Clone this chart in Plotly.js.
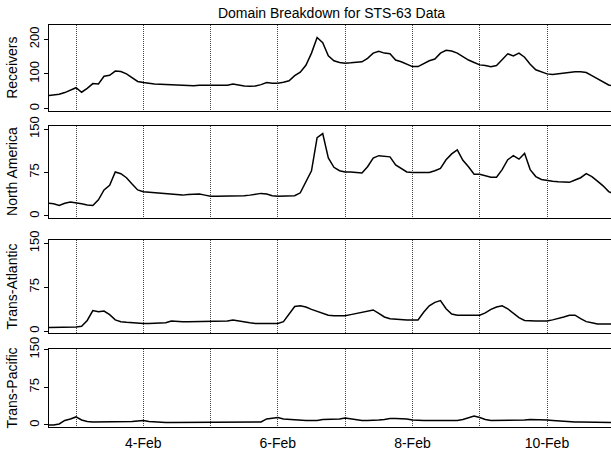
<!DOCTYPE html>
<html>
<head>
<meta charset="utf-8">
<script src="https://cdn.plot.ly/plotly-3.0.1.min.js"></script>
<style>
  html, body { margin: 0; padding: 0; overflow: hidden; background: #fff; }
  #chart { width: 614px; height: 452px; }
</style>
</head>
<body>
<div id="chart"></div>
<script>
// Sampling of the STS-63 traffic series: one reading every two hours.
const startTime = '1995-02-02T14:00:00';
const stepHours = 2;

const panelNames = ['Receivers', 'North America', 'Trans-Atlantic', 'Trans-Pacific'];

const receivers = [
  37, 38, 41, 46, 54, 60, 47, 58, 72, 71,
  93, 96, 108, 107, 100, 89, 78, 75, 72, 71,
  70, 69, 70, 68, 67, 66, 66, 67, 67, 66,
  66, 67, 67, 71, 67, 65, 64, 65, 69, 75,
  73, 73, 76, 80, 95, 105, 125, 160, 205, 190,
  152, 138, 133, 131, 132, 133, 135, 145, 160, 165,
  160, 158, 140, 135, 128, 121, 121, 130, 138, 143,
  160, 168, 166, 160, 150, 140, 133, 126, 124, 121,
  124, 140, 158, 152, 160, 148, 128, 112, 105, 100,
  98, 100, 102, 105, 106, 106, 104, 95, 86, 78,
  68, 64
];

const northAmerica = [
  22, 21, 18, 22, 24, 23, 21, 19, 18, 28,
  45, 53, 76, 73, 66, 55, 45, 42, 41, 40,
  39, 38, 37, 36, 36, 37, 37, 38, 36, 34,
  34, 34, 34, 34, 35, 35, 36, 37, 39, 38,
  35, 34, 34, 34, 35, 40, 60, 78, 135, 142,
  100, 84, 78, 76, 76, 75, 74, 85, 100, 104,
  103, 102, 88, 82, 76, 75, 75, 75, 75, 78,
  82, 97, 107, 114, 96, 85, 72, 72, 70, 67,
  67, 80, 97, 104, 98, 108, 80, 68, 63, 61,
  60, 59, 58, 58, 62, 66, 73, 68, 60, 52,
  42, 38
];

const transAtlantic = [
  6, 6, 6, 7, 7, 7, 8, 18, 35, 33,
  34, 28, 19, 16, 15, 14, 14, 13, 13, 13,
  13, 14, 17, 16, 16, 16, 16, 16, 16, 17,
  17, 17, 17, 19, 17, 15, 14, 13, 13, 13,
  13, 13, 16, 30, 42, 43, 41, 37, 34, 31,
  27, 26, 26, 26, 28, 30, 33, 35, 36, 30,
  24, 21, 20, 19, 19, 19, 19, 32, 43, 49,
  52, 38, 29, 27, 27, 27, 27, 27, 31, 37,
  41, 43, 38, 30, 23, 18, 17, 17, 17, 17,
  19, 21, 24, 27, 27, 21, 16, 14, 12, 12,
  12, 12
];

const transPacific = [
  0, 0, 2, 9, 12, 16, 10, 7, 6, 6,
  6, 6, 6, 6, 6, 7, 8, 9, 7, 6,
  5, 5, 5, 5, 5, 5, 5, 5, 5, 5,
  5, 5, 5, 5, 5, 5, 5, 5, 6, 12,
  13, 15, 12, 11, 10, 10, 9, 9, 9, 11,
  11, 12, 12, 14, 12, 10, 9, 9, 9, 10,
  11, 13, 13, 13, 12, 10, 9, 9, 9, 9,
  9, 9, 9, 9, 11, 14, 18, 15, 11, 9,
  9, 9, 9, 9, 10, 10, 11, 11, 10, 10,
  9, 8, 7, 7, 6, 6, 6, 5, 5, 5,
  5, 5
];

const yTicks = [[0, 100, 200], [0, 75, 150], [0, 75, 150], [0, 75, 150]];
const seriesList = [receivers, northAmerica, transAtlantic, transPacific];

// time stamps for the samples
const t0 = new Date(startTime + 'Z').getTime();
function stamp(i) {
  const d = new Date(t0 + i * stepHours * 3600000);
  return d.toISOString().slice(0, 19).replace('T', ' ');
}

const FONT = 'Liberation Sans, Arial, Helvetica, sans-serif';
const DAY = 86400000;
const GRID_DASH = '1px,1px';
const GRID_COLOR = '#444';

const domains = [
  [0.7551, 0.9454],
  [0.5188, 0.7219],
  [0.2633, 0.4690],
  [0.0560, 0.2272]
];
const yRanges = [[-6.4, 242.2], [-2.6, 155.7], [-3.4, 155.6], [-3.4, 150.6]];

const traces = seriesList.map((vals, k) => ({
  type: 'scatter',
  mode: 'lines',
  x: vals.map((_, i) => stamp(i)),
  y: vals,
  xaxis: k === 0 ? 'x' : 'x' + (k + 1),
  yaxis: k === 0 ? 'y' : 'y' + (k + 1),
  line: { color: '#000', width: 1.5 },
  hoverinfo: 'x+y',
  showlegend: false
}));

const layout = {
  width: 614,
  height: 452,
  margin: { l: 49, r: 0, t: 0, b: 0, pad: 0 },
  paper_bgcolor: '#fff',
  plot_bgcolor: '#fff',
  font: { family: FONT, color: '#000', size: 13 },
  showlegend: false,
  title: {
    text: 'Domain Breakdown for STS-63 Data',
    font: { family: FONT, size: 14, color: '#000' },
    x: 0.5, xref: 'paper', xanchor: 'center',
    y: 1 - 13 / 452, yref: 'container', yanchor: 'middle'
  }
};

for (let k = 0; k < 4; k++) {
  const xs = k === 0 ? '' : String(k + 1);
  const ys = k === 0 ? '' : String(k + 1);
  layout['xaxis' + xs] = {
    domain: [0, 1],
    anchor: 'y' + ys,
    matches: k === 0 ? undefined : 'x',
    type: 'date',
    range: ['1995-02-02 14:22', '1995-02-10 23:54'],
    tickmode: 'linear',
    tick0: '1995-02-04',
    dtick: 2 * DAY,
    tickformat: '%-d-%b',
    showticklabels: k === 3,
    tickfont: { family: FONT, size: 14, color: '#000' },
    ticks: '',
    ticklabelstandoff: 4,
    showgrid: true,
    gridcolor: GRID_COLOR,
    griddash: GRID_DASH,
    gridwidth: 1,
    minor: {
      tick0: '1995-02-03',
      dtick: DAY,
      showgrid: true,
      gridcolor: GRID_COLOR,
      griddash: GRID_DASH,
      gridwidth: 1,
      ticks: ''
    },
    showline: true,
    mirror: true,
    linecolor: '#000',
    linewidth: 1,
    zeroline: false,
    fixedrange: true
  };
  layout['yaxis' + ys] = {
    domain: domains[k],
    anchor: 'x' + xs,
    range: yRanges[k],
    tickmode: 'array',
    tickvals: yTicks[k],
    ticktext: yTicks[k].map(String),
    tickangle: -90,
    tickfont: { family: FONT, size: 13, color: '#000' },
    ticks: 'outside',
    ticklen: 4,
    tickcolor: '#000',
    tickwidth: 1,
    showgrid: false,
    zeroline: false,
    showline: true,
    mirror: true,
    linecolor: '#000',
    linewidth: 1,
    fixedrange: true,
    title: {
      text: panelNames[k],
      font: { family: FONT, size: 14, color: '#000' },
      standoff: 5
    }
  };
}

Plotly.newPlot('chart', traces, layout, { displayModeBar: false, staticPlot: true });
</script>
</body>
</html>
